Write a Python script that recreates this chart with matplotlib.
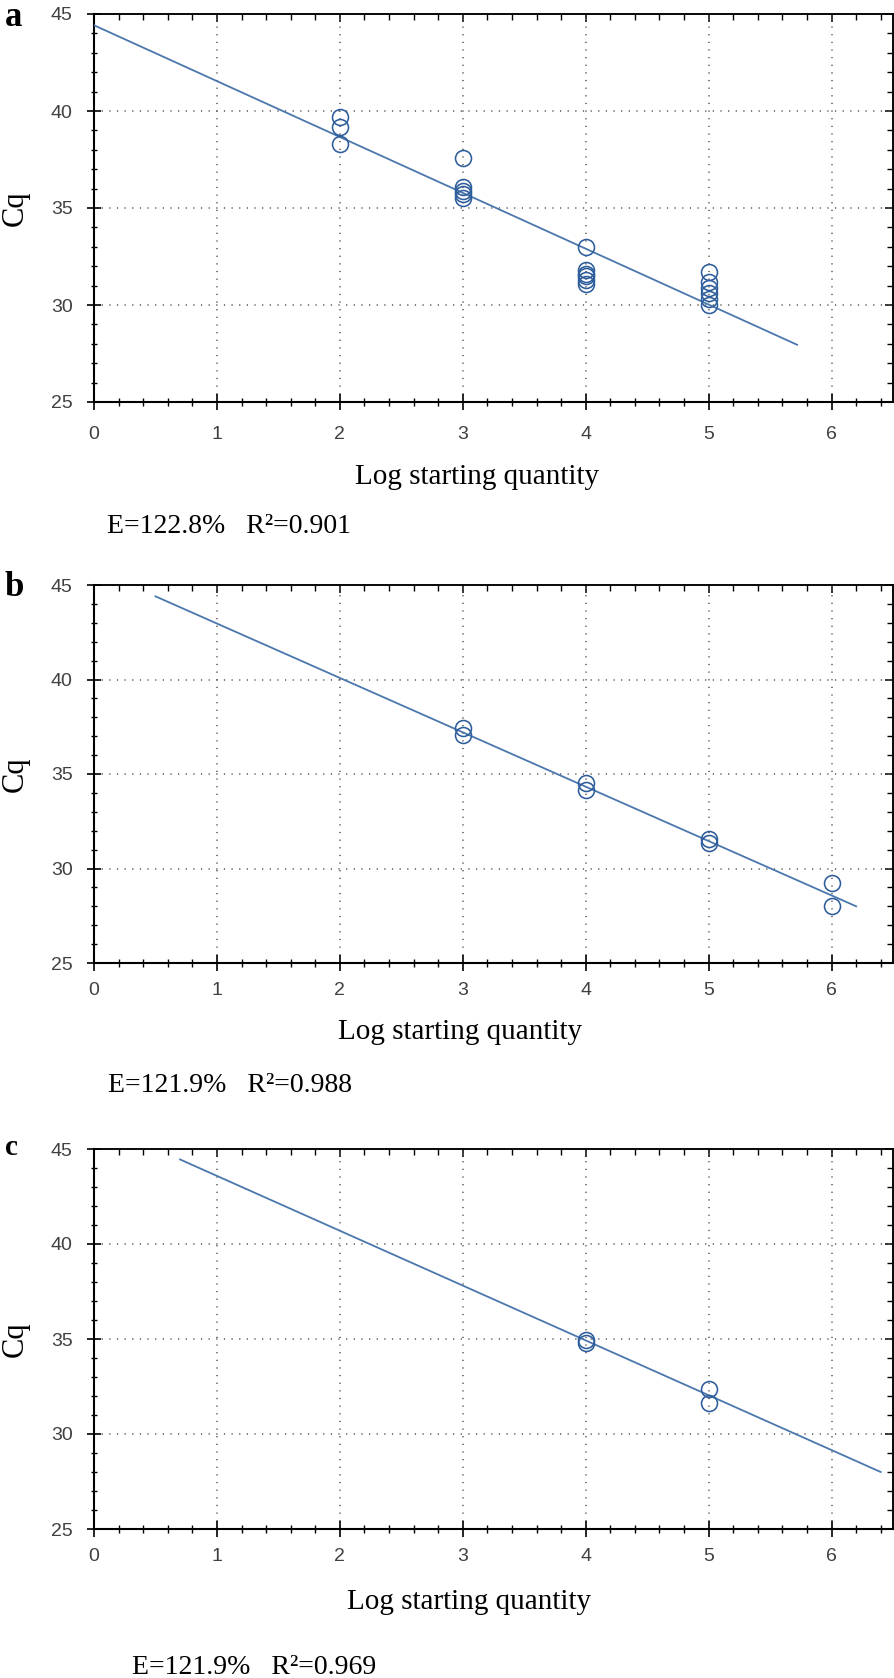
import numpy as np
import matplotlib
matplotlib.use("Agg")
import matplotlib.pyplot as plt
from matplotlib.ticker import MultipleLocator, NullFormatter

# Standard curves (x = log starting quantity, y = Cq)
a_logq = [2, 2, 2, 3, 3, 3, 3, 3, 4, 4, 4, 4, 4, 4, 5, 5, 5, 5, 5, 5]
a_cq = [39.7, 39.2, 38.3, 37.6, 36.1, 35.9, 35.7, 35.5,
        33.0, 31.8, 31.6, 31.5, 31.3, 31.1,
        31.7, 31.2, 30.9, 30.6, 30.3, 30.0]
a_fit_logq = [0.0, 5.72]
a_fit_cq = [44.42, 27.95]

b_logq = [3, 3, 4, 4, 5, 5, 6, 6]
b_cq = [37.45, 37.06, 34.5, 34.15, 31.55, 31.33, 29.25, 28.02]
b_fit_logq = [0.5, 6.2]
b_fit_cq = [44.4, 28.0]

c_logq = [4, 4, 5, 5]
c_cq = [34.95, 34.8, 32.35, 31.65]
c_fit_logq = [0.7, 6.4]
c_fit_cq = [44.45, 28.0]

panel_letters = ["a", "b", "c"]
eff_texts = ["E=122.8%   R\u00b2=0.901", "E=121.9%   R\u00b2=0.988", "E=121.9%   R\u00b2=0.969"]

W, H = 895, 1678
# axes boxes in pixels: (left, top, right, bottom)
boxes = [(94, 14, 893, 402), (94, 585, 893, 963), (94, 1149, 893, 1529)]
xlabel_pos = [(477, 477), (460, 1032), (469, 1602)]
eff_pos = [(107, 527), (108, 1085), (132, 1667)]
letter_pos = [(5, 26, 25), (5, 596, 25), (5, 1155, 21)]
xtick_pad = [11.3, 7.7, 7.7]

plt.rcParams['font.family'] = ['Liberation Sans', 'DejaVu Sans']
SERIF = ['Liberation Serif', 'DejaVu Serif']
DOT_COLOR = '#2d5d9c'
LINE_COLOR = '#4a78ad'
GRID_COLOR = '#555555'

fig = plt.figure(figsize=(W / 100, H / 100), dpi=100)


def draw_panel(i, logq, cq, fit_logq, fit_cq):
    l, t, r, b = boxes[i]
    ax = fig.add_axes([l / W, 1 - b / H, (r - l) / W, (b - t) / H])
    ax.plot(fit_logq, fit_cq, color=LINE_COLOR, lw=1.3, zorder=3)
    ax.plot(logq, cq, 'o', mfc='none', mec=DOT_COLOR, mew=1.15, ms=11.5, zorder=4)

    ax.set_xlim(0, 6.5)
    ax.set_ylim(25, 45)
    ax.xaxis.set_major_locator(MultipleLocator(1))
    ax.xaxis.set_minor_locator(MultipleLocator(0.2))
    ax.yaxis.set_major_locator(MultipleLocator(5))
    ax.yaxis.set_minor_locator(MultipleLocator(1))
    ax.grid(True, which='major', color=GRID_COLOR, lw=1.1, linestyle=(0, (0.8, 4.2)))
    ax.set_axisbelow(True)

    ax.tick_params(axis='x', which='major', direction='inout', length=12, width=1.2,
                   pad=xtick_pad[i], labelsize=14, labelcolor='#404040')
    ax.tick_params(axis='x', which='minor', direction='inout', length=6, width=1.0)
    ax.tick_params(axis='y', which='major', direction='inout', length=10, width=1.2,
                   pad=10.5, labelsize=14, labelcolor='#404040')
    ax.tick_params(axis='y', which='minor', direction='inout', length=5, width=1.0)
    for side in ['left', 'bottom']:
        ax.spines[side].set_linewidth(1.5)
    for side in ['top', 'right']:
        ax.spines[side].set_linewidth(1.1)

    # inward ticks on the top and right frame
    top = ax.secondary_xaxis('top')
    top.xaxis.set_major_locator(MultipleLocator(1))
    top.xaxis.set_minor_locator(MultipleLocator(0.2))
    top.xaxis.set_major_formatter(NullFormatter())
    top.tick_params(which='major', direction='in', length=6, width=1.1)
    top.tick_params(which='minor', direction='in', length=4, width=1.0)
    top.spines['top'].set_linewidth(1.1)
    right = ax.secondary_yaxis('right')
    right.yaxis.set_major_locator(MultipleLocator(5))
    right.yaxis.set_minor_locator(MultipleLocator(1))
    right.yaxis.set_major_formatter(NullFormatter())
    right.tick_params(which='major', direction='in', length=6, width=1.1)
    right.tick_params(which='minor', direction='in', length=4, width=1.0)
    right.spines['right'].set_linewidth(1.1)

    ax.set_ylabel('Cq', family=SERIF, fontsize=22, va='center', ha='center')
    ax.yaxis.set_label_coords((15 - l) / (r - l), 0.5)
    lx, ly = xlabel_pos[i]
    ax.set_xlabel('Log starting quantity', family=SERIF, fontsize=21, va='center', ha='center')
    ax.xaxis.set_label_coords((lx - l) / (r - l), (b - ly) / (b - t))

    ex, ey = eff_pos[i]
    fig.text(ex / W, 1 - ey / H, eff_texts[i], family=SERIF, fontsize=20, va='center', ha='left')
    px, py, ps = letter_pos[i]
    fig.text(px / W, 1 - py / H, panel_letters[i], family=SERIF, fontsize=ps,
             fontweight='bold', va='baseline', ha='left')
    return ax


draw_panel(0, a_logq, a_cq, a_fit_logq, a_fit_cq)
draw_panel(1, b_logq, b_cq, b_fit_logq, b_fit_cq)
draw_panel(2, c_logq, c_cq, c_fit_logq, c_fit_cq)

fig.savefig('out.png', dpi=100)
